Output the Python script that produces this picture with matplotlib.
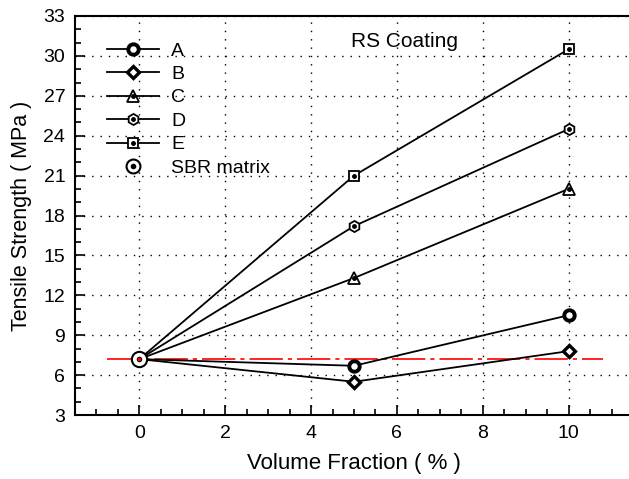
import matplotlib
matplotlib.use('Agg')
import matplotlib.pyplot as plt
from matplotlib.ticker import MultipleLocator

plt.rcParams['font.family'] = ['Liberation Sans', 'DejaVu Sans']
plt.rcParams['font.size'] = 14

# data
fraction = [0, 5, 10]
series_names = ['A', 'B', 'C', 'D', 'E']
strength_a = [7.2, 6.7, 10.5]
strength_b = [7.2, 5.5, 7.8]
strength_c = [7.2, 13.3, 20.0]
strength_d = [7.2, 17.2, 24.5]
strength_e = [7.2, 21.0, 30.5]
sbr_x = [0]
sbr_y = [7.2]
sbr_line_x = [-0.75, 10.8]

fig = plt.figure(figsize=(6.29, 4.79), dpi=100, facecolor='white')
ax = fig.add_axes([75 / 629, 1 - 415 / 479, 558 / 629, 399 / 479])

# marker styles: (marker, size, edge width, centre dot?)
styles = {
    'A': ('o', 7.5, 2.8, False),
    'B': ('D', 6, 2.4, False),
    'C': ('^', 8, 1.3, True),
    'D': ('h', 8, 1.3, True),
    'E': ('s', 7, 1.3, True),
}
all_y = [strength_a, strength_b, strength_c, strength_d, strength_e]

handles = []
for name, ys in zip(series_names, all_y):
    mk, ms, mew, dot = styles[name]
    ax.plot(fraction, ys, color='black', lw=1.3, zorder=3)
    ax.plot(fraction[1:], ys[1:], ls='none', marker=mk, ms=ms, mfc='white',
            mec='black', mew=mew, zorder=4)
    if dot:
        ax.plot(fraction[1:], ys[1:], ls='none', marker='o', ms=2.5,
                color='black', zorder=5)
    h1, = plt.plot([], [], color='black', lw=1.3, marker=mk, ms=ms, mfc='white',
                   mec='black', mew=mew)
    if dot:
        h2, = plt.plot([], [], ls='none', marker='o', ms=2.5, color='black')
        handles.append((h1, h2))
    else:
        handles.append(h1)

ax.plot(sbr_line_x, [sbr_y[0]] * 2, color='red', lw=1.2,
        ls=(0, (20, 3, 2.5, 3)), zorder=2)
ax.plot(sbr_x, sbr_y, ls='none', marker='o', ms=11, mfc='white', mec='black',
        mew=1.5, zorder=6)
ax.plot(sbr_x, sbr_y, ls='none', marker='o', ms=3, color='black', zorder=7)
ax.plot(sbr_x, sbr_y, ls='none', marker='o', ms=1.5, color='red', zorder=8)

s1, = plt.plot([], [], ls='none', marker='o', ms=10, mfc='white', mec='black', mew=1.5)
s2, = plt.plot([], [], ls='none', marker='o', ms=3, color='black')
handles.append((s1, s2))

ax.legend(handles, series_names + ['SBR matrix'], loc='upper left',
          bbox_to_anchor=(0.057, 0.935), frameon=False, handlelength=2.7,
          labelspacing=0.3, handletextpad=0.6, borderaxespad=0, borderpad=0,
          fontsize=14)

ax.text(0.591, 0.935, 'RS Coating', transform=ax.transAxes, ha='center',
        va='center', fontsize=15)

ax.set_xlim(-1.5, 11.5)
ax.set_ylim(3, 33)
ax.xaxis.set_major_locator(MultipleLocator(2))
ax.xaxis.set_minor_locator(MultipleLocator(0.5))
ax.yaxis.set_major_locator(MultipleLocator(3))
ax.yaxis.set_minor_locator(MultipleLocator(1))
ax.tick_params(which='both', direction='in', top=False, right=False, width=1.2,
               labelsize=14)
ax.tick_params(which='major', length=7, pad=7)
ax.tick_params(which='minor', length=4)
ax.grid(True, which='major', color='black', ls=(0, (1, 5)), lw=1.0)
for sp in ax.spines.values():
    sp.set_linewidth(1.5)
ax.spines['right'].set_visible(False)

ax.set_xlabel('Volume Fraction ( % )', labelpad=8, fontsize=16)
ax.set_ylabel('Tensile Strength ( MPa )', labelpad=8, fontsize=15.5)

fig.savefig('out.png', dpi=100, facecolor='white')
